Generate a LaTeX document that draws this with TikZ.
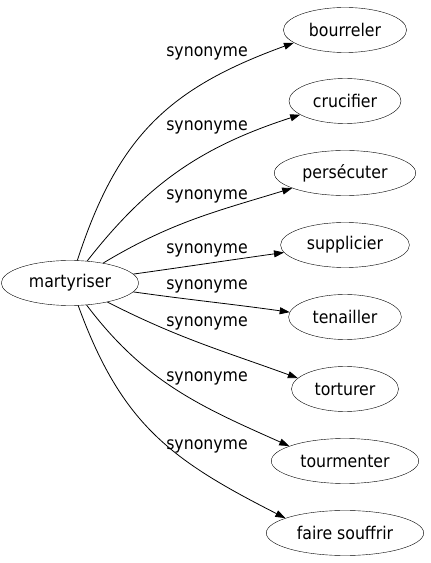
\documentclass[tikz,border=0pt]{standalone}
\usepackage{fontspec}
\setmainfont{DejaVu Sans Condensed}
\usetikzlibrary{shapes.geometric,arrows.meta}

\begin{document}
\begin{tikzpicture}[x=1pt,y=1pt,
  mot/.style={draw,ellipse,inner xsep=7.5pt,inner ysep=0pt,minimum height=45pt,font=\fontsize{17.5}{20}\selectfont},
  syn/.style={font=\fontsize{17.5}{20}\selectfont},
  lien/.style={-{Triangle[length=10pt,width=7pt]},line width=0.8pt}]
  \useasboundingbox (0,0) rectangle (431,563);

  \node[mot] (m) at (70,280) {martyriser};
  \node[mot] (a) at (345,533) {bourreler};
  \node[mot] (b) at (345,462) {crucifier};
  \node[mot] (c) at (345,390) {persécuter};
  \node[mot] (d) at (345,318) {supplicier};
  \node[mot] (e) at (345,246) {tenailler};
  \node[mot] (f) at (345,174) {torturer};
  \node[mot] (g) at (345,102) {tourmenter};
  \node[mot] (h) at (345,30) {faire souffrir};

  \node[syn] (la) at (207,510) {synonyme};
  \node[syn] (lb) at (207,436) {synonyme};
  \node[syn] (lc) at (207,367) {synonyme};
  \node[syn] (ld) at (207,313) {synonyme};
  \node[syn] (le) at (207,277) {synonyme};
  \node[syn] (lf) at (207,240) {synonyme};
  \node[syn] (lg) at (207,185) {synonyme};
  \node[syn] (lh) at (207,117) {synonyme};

  \draw[lien] (m) to[out=72,in=200,looseness=1.1] (a.194);
  \draw[lien] (m) to[out=52,in=198] (b.197);
  \draw[lien] (m) to[out=31,in=197] (c.196);
  \draw[lien] (m) to[out=8,in=188] (d.187);
  \draw[lien] (m) to[out=-8,in=172] (e.175);
  \draw[lien] (m) to[out=-27,in=160] (f.167);
  \draw[lien] (m) to[out=-53,in=156] (g.165);
  \draw[lien] (m) to[out=-70,in=153,looseness=1.1] (h.166);
\end{tikzpicture}
\end{document}
